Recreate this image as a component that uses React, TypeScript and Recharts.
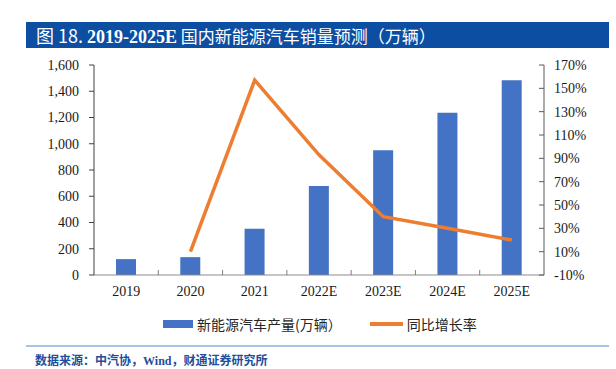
import React from 'react';
import { ComposedChart, Bar, Line, XAxis, YAxis, Legend } from 'recharts';

const categories = ['2019', '2020', '2021', '2022E', '2023E', '2024E', '2025E'];
const salesValues = [121, 136, 352, 678, 951, 1236, 1484];
const yoyValues: (number | null)[] = [null, 10, 157, 93, 40, 30, 20];
const leftTicks = [0, 200, 400, 600, 800, 1000, 1200, 1400, 1600];
const rightTicks = [-10, 10, 30, 50, 70, 90, 110, 130, 150, 170];

const seriesNames = { sales: '新能源汽车产量(万辆）', yoy: '同比增长率' };
const titleParts = ['图 18. ', '2019-2025E', ' 国内新能源汽车销量预测（万辆）'];
const sourceParts = ['数据来源：中汽协，', 'Wind', '，财通证券研究所'];

const data = categories.map((c, i) => ({ category: c, sales: salesValues[i], yoy: yoyValues[i] }));

const BLUE = '#4472C4';
const ORANGE = '#ED7D31';
const SERIF = '"Liberation Serif", "Times New Roman", serif';
const CJK = '"Noto Sans CJK SC", "Noto Sans", sans-serif';

const XTick = (props: any) => {
  const { x, y, payload, index, width, visibleTicksCount } = props;
  const band = width / (visibleTicksCount || categories.length);
  return (
    <g>
      {index > 0 && (
        <line x1={x - band / 2} x2={x - band / 2} y1={y - 5} y2={y} stroke="#7f7f7f" strokeWidth={1} />
      )}
      <text x={x} y={y + 21} textAnchor="middle" fontFamily={SERIF} fontSize={14} fill="#1a1a1a">
        {payload.value}
      </text>
    </g>
  );
};

const RightTick = (props: any) => {
  const { x, y, payload } = props;
  return (
    <g>
      <line x1={x - 5} x2={x} y1={y} y2={y} stroke="#595959" strokeWidth={1} />
      <text x={x + 10} y={y} dy="0.35em" textAnchor="start" fontFamily={SERIF} fontSize={14} fill="#1a1a1a">
        {`${payload.value}%`}
      </text>
    </g>
  );
};

const renderLegend = (props: any) => {
  const payload = [...(props.payload || [])].sort((a: any, b: any) => (a.type === 'line' ? 1 : 0) - (b.type === 'line' ? 1 : 0));
  return (
    <div style={{ display: 'flex', alignItems: 'center', marginLeft: 163, height: 22, fontFamily: CJK, fontSize: 14, color: '#262626' }}>
      {payload.map((entry: any, i: number) => (
        <div key={i} style={{ display: 'flex', alignItems: 'center', marginLeft: i === 0 ? 0 : 28 }}>
          {entry.type === 'line' ? (
            <span style={{ display: 'inline-block', width: 33, height: 3.5, background: entry.color }} />
          ) : (
            <span style={{ display: 'inline-block', width: 30, height: 8, background: entry.color }} />
          )}
          <span style={{ marginLeft: 4, whiteSpace: 'nowrap' }}>{entry.value}</span>
        </div>
      ))}
    </div>
  );
};

export default function App() {
  return (
    <div style={{ position: 'absolute', left: 0, top: 0, width: 616, height: 369, background: '#fff', overflow: 'hidden' }}>
      <div
        style={{
          position: 'absolute', left: 26, top: 22, width: 583, height: 26, background: '#0b4ea2',
          color: '#fff', fontSize: 18, lineHeight: '26px', paddingLeft: 10, boxSizing: 'border-box', whiteSpace: 'nowrap',
        }}
      >
        <span style={{ fontFamily: CJK }}>{titleParts[0]}</span>
        <span style={{ fontFamily: SERIF, fontWeight: 'bold' }}>{titleParts[1]}</span>
        <span style={{ fontFamily: CJK, fontSize: 17 }}>{titleParts[2]}</span>
      </div>
      <div style={{ position: 'absolute', left: 0, top: 0 }}>
        <ComposedChart width={616} height={369} data={data} margin={{ top: 65, right: 0, bottom: 42, left: 0 }}>
          <XAxis
            dataKey="category"
            height={30}
            tickLine={false}
            tickSize={0}
            tickMargin={0}
            axisLine={{ stroke: '#8c8c8c' }}
            tick={<XTick />}
            interval={0}
          />
          <YAxis
            yAxisId="left"
            orientation="left"
            width={94}
            domain={[0, 1600]}
            ticks={leftTicks}
            interval={0}
            tickSize={5}
            tickMargin={10}
            axisLine={{ stroke: '#404040' }}
            tickLine={{ stroke: '#404040' }}
            tick={{ fontFamily: SERIF, fontSize: 14, fill: '#1a1a1a' }}
            tickFormatter={(v: number) => v.toLocaleString('en-US')}
          />
          <YAxis
            yAxisId="right"
            orientation="right"
            width={72}
            domain={[-10, 170]}
            ticks={rightTicks}
            interval={0}
            tickSize={0}
            tickMargin={0}
            tickLine={false}
            axisLine={{ stroke: '#595959' }}
            tick={<RightTick />}
          />
          <Legend
            verticalAlign="bottom"
            content={renderLegend}
            wrapperStyle={{ position: 'absolute', top: 313, left: 0, width: 616 }}
          />
          <Bar yAxisId="left" dataKey="sales" name={seriesNames.sales} fill={BLUE} barSize={20} isAnimationActive={false} legendType="rect" />
          <Line
            yAxisId="right"
            dataKey="yoy"
            name={seriesNames.yoy}
            stroke={ORANGE}
            strokeWidth={3.5}
            dot={false}
            activeDot={false}
            type="linear"
            isAnimationActive={false}
            legendType="line"
          />
        </ComposedChart>
      </div>
      <div style={{ position: 'absolute', left: 26, top: 345, width: 583, height: 2, background: '#a9c3e6' }} />
      <div
        style={{
          position: 'absolute', left: 35, top: 351, fontSize: 12, lineHeight: '18px', fontWeight: 'bold',
          color: '#1f4e9c', fontFamily: CJK, whiteSpace: 'nowrap',
        }}
      >
        <span>{sourceParts[0]}</span>
        <span style={{ fontFamily: SERIF }}>{sourceParts[1]}</span>
        <span>{sourceParts[2]}</span>
      </div>
    </div>
  );
}
